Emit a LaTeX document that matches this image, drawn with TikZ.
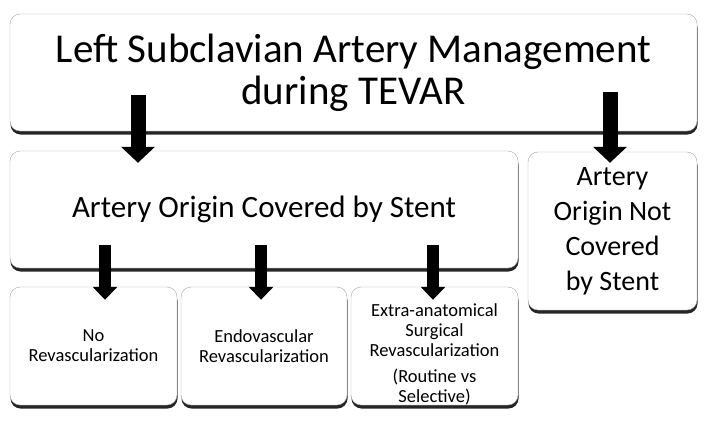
\documentclass[tikz,border=0pt]{standalone}
\usepackage{fontspec}
\setmainfont{Carlito}
\usetikzlibrary{arrows.meta,shadows}

\begin{document}
\begin{tikzpicture}
  [x=1pt,y=-1pt,
   every node/.style={rectangle,rounded corners=10pt,fill=white,draw=black!35,thin,
     align=center,inner sep=2pt,
     drop shadow={shadow xshift=0.5pt,shadow yshift=-3.5pt,fill=black,opacity=0.85}},
   bigarrow/.style={line width=15pt,-{Triangle[length=16pt,width=33pt]}},
   smallarrow/.style={line width=12pt,-{Triangle[length=13pt,width=24pt]}}]
  \useasboundingbox (0,0) rectangle (706,423);
  \node (lsa) at (353.5,72.5) [minimum width=687pt,minimum height=117pt,
    font=\fontsize{41}{42}\selectfont] {Left Subclavian Artery Management\\during TEVAR};
  \node (cov) at (264,209.5) [minimum width=508pt,minimum height=117pt,
    font=\fontsize{31}{35}\selectfont] {Artery Origin Covered by Stent};
  \node (notcov) at (612.5,231) [minimum width=169pt,minimum height=158pt,
    font=\fontsize{28}{35}\selectfont] {Artery\\Origin Not\\Covered\\by Stent};
  \node (norev) at (93.5,346) [minimum width=167pt,minimum height=118pt,
    font=\fontsize{18.5}{20}\selectfont] {No\\Revascularization};
  \node (endo) at (264,346) [minimum width=166pt,minimum height=118pt,
    font=\fontsize{18.5}{20}\selectfont] {Endovascular\\Revascularization};
  \node (surg) at (434.5,346) [minimum width=167pt,minimum height=118pt,text height=112pt,text depth=-6pt,
    font=\fontsize{18.5}{20}\selectfont] {Extra-anatomical\\Surgical\\Revascularization\\[6pt](Routine vs\\Selective)};
\draw[bigarrow] ([yshift=36pt]lsa.south -| 138,0) -- ([yshift=-12pt]cov.north -| 138,0);
\draw[bigarrow] ([yshift=39pt]lsa.south -| 610,0) -- ([yshift=-11pt]notcov.north -| 610,0);
\foreach \to/\x in {norev/105,endo/261,surg/433}
    \draw[smallarrow] ([yshift=23pt]cov.south -| \x,0) -- ([yshift=-13pt]\to.north -| \x,0);

\end{tikzpicture}
\end{document}
